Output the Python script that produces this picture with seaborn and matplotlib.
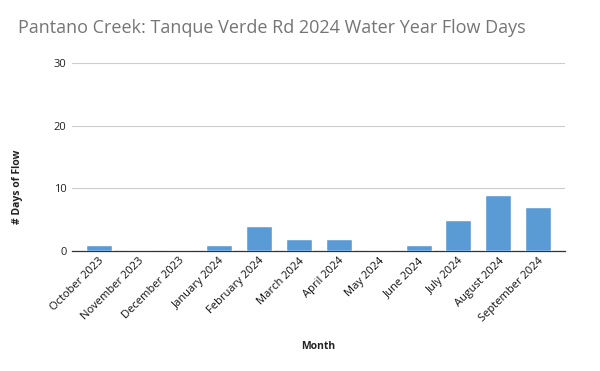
import numpy as np
import pandas as pd
import matplotlib
matplotlib.use("Agg")
import matplotlib.pyplot as plt
import seaborn as sns

months = ["October 2023", "November 2023", "December 2023", "January 2024",
          "February 2024", "March 2024", "April 2024", "May 2024",
          "June 2024", "July 2024", "August 2024", "September 2024"]
flow_days = [1, 0, 0, 1, 4, 2, 2, 0, 1, 5, 9, 7]
y_ticks = [0, 10, 20, 30]

sns.set_theme(style="white")
plt.rcParams['font.family'] = ['Open Sans', 'DejaVu Sans']

df = pd.DataFrame({"Month": months, "Days": flow_days})

fig = plt.figure(figsize=(6, 3.71), dpi=100)
ax = fig.add_axes([0.12, 0.323, 0.822, 0.507])
sns.barplot(data=df, x="Month", y="Days", color="#5b9bd5", saturation=1,
            width=0.65, ax=ax, zorder=3)

ax.set_ylim(0, 30)
ax.set_yticks(y_ticks)
ax.yaxis.grid(True, color="#cccccc", linewidth=0.8, zorder=0)
ax.tick_params(axis="y", labelsize=8, colors="#222222", length=0, pad=4)
ax.tick_params(axis="x", labelsize=8, colors="#111111", length=0, pad=3)
plt.setp(ax.get_xticklabels(), rotation=45, ha="right", rotation_mode="anchor")
for s in ["top", "right", "left"]:
    ax.spines[s].set_visible(False)
ax.spines["bottom"].set_color("#333333")
ax.spines["bottom"].set_linewidth(0.9)
ax.set_xlim(-0.67, len(months) - 0.33)

ax.set_xlabel("Month", fontsize=7.5, fontweight="bold", color="#222222")
ax.set_ylabel("# Days of Flow", fontsize=7.5, fontweight="bold", color="#222222")
ax.xaxis.set_label_coords(0.5, -0.475)
ax.yaxis.set_label_coords(-0.10, 0.34)

fig.text(0.03, 0.925, "Pantano Creek: Tanque Verde Rd 2024 Water Year Flow Days",
         fontsize=13, color="#757575", va="center", ha="left")

fig.savefig("out.png", dpi=100)
